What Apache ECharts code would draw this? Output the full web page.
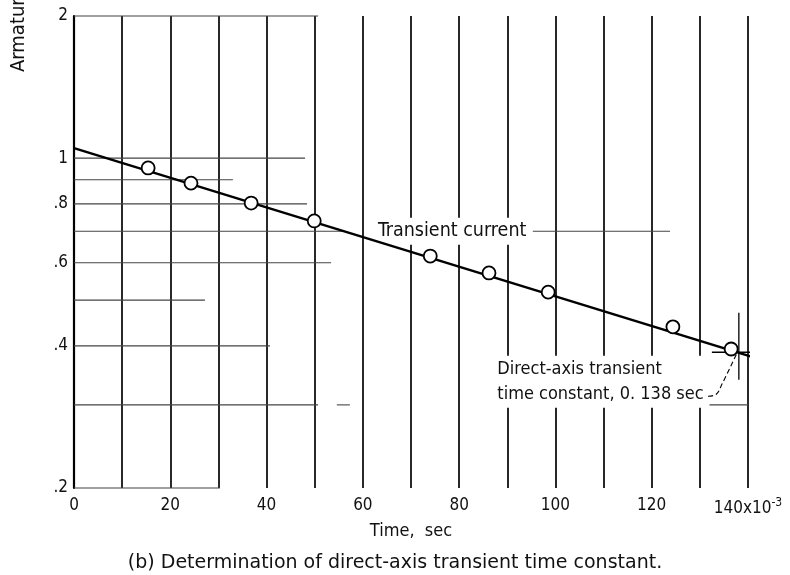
<!DOCTYPE html>
<html>
<head>
<meta charset="utf-8">
<script src="https://cdn.jsdelivr.net/npm/echarts@6/dist/echarts.min.js"></script>
<style>
html,body{margin:0;padding:0;background:#fff;}
#chart{width:790px;height:575px;}
</style>
</head>
<body>
<div id="chart"></div>
<script>
// ---- data ----
const timeMs     = [15.4, 24.3, 36.8, 49.9, 74.0, 86.2, 98.5, 124.4, 136.5];
const currentPU  = [0.953, 0.885, 0.803, 0.736, 0.620, 0.571, 0.520, 0.439, 0.394];
const fitTime    = [0, 142];
const fitCurrent = [1.05, 0.376];
const xTickValues = [0, 20, 40, 60, 80, 100, 120, 140];
const xTickLabels = ['0', '20', '40', '60', '80', '100', '120', '140x10^-3'];
const yTickValues = [2, 1, 0.8, 0.6, 0.4, 0.2];
const yTickLabels = ['2', '1', '.8', '.6', '.4', '.2'];
const timeConstant = 138.1;      // ms
const timeConstantCurrent = 0.388;
const yAxisTitle = 'Armature current';
const xAxisTitle = 'Time,  sec';
const caption = '(b) Determination of direct-axis transient time constant.';
const noteTransient = 'Transient current';
const noteTimeConstant = 'Direct-axis transient\ntime constant, 0. 138 sec';

// ---- decoration (partial log-paper rulings) ----
const FONT = "'DejaVu Sans Condensed','Liberation Sans Narrow',sans-serif";
const CAPFONT = "'DejaVu Sans','Liberation Sans',sans-serif";
const INK = '#111';
const rulings = [
  [2, 0, 50.7], [1, 0, 48], [0.9, 0, 33], [0.8, 0, 48.4], [0.7, 0, 56],
  [0.6, 0, 53.4], [0.5, 0, 27.2], [0.4, 0, 40.7], [0.3, 0, 50.7],
  [0.3, 54.6, 57.3], [0.3, 132, 140], [0.2, 0, 30.3], [0.7, 95.3, 123.8]
];

const chart = echarts.init(document.getElementById('chart'), null, {renderer: 'canvas'});

function xLabel(v) {
  const i = xTickValues.indexOf(v);
  if (i < 0) return '';
  const t = xTickLabels[i];
  if (t.indexOf('^') >= 0) {
    const parts = t.split('^');
    return '{b|' + parts[0] + '}{s|' + parts[1] + '}';
  }
  return '{b|' + t + '}';
}

const option = {
  animation: false,
  backgroundColor: '#fff',
  title: {
    text: caption, left: 'center', top: 549,
    textStyle: {fontFamily: CAPFONT, fontSize: 19, fontWeight: 'normal', color: INK}
  },
  grid: {left: 74, right: 42, top: 16, bottom: 87},
  xAxis: {
    type: 'value', min: 0, max: 140, interval: 10,
    axisLine: {show: false}, axisTick: {show: false},
    splitLine: {show: true, lineStyle: {color: INK, width: 1.8}},
    axisLabel: {
      margin: 9, formatter: xLabel, color: INK,
      rich: {
        b: {fontFamily: FONT, fontSize: 17, color: INK},
        s: {fontFamily: FONT, fontSize: 12, color: INK, verticalAlign: 'top', padding: [0, 0, 12, 0]}
      }
    },
    name: xAxisTitle, nameLocation: 'middle', nameGap: 25,
    nameTextStyle: {fontFamily: FONT, fontSize: 18, color: INK}
  },
  yAxis: {
    type: 'log', logBase: 10, min: 0.2, max: 2,
    axisLine: {show: true, lineStyle: {color: '#000', width: 2.2}},
    axisTick: {show: false}, axisLabel: {show: false}, splitLine: {show: false}
  },
  graphic: [{
    type: 'text', x: 19, y: 72, rotation: Math.PI / 2,
    style: {text: yAxisTitle, font: '20px ' + FONT, fill: INK, textAlign: 'left', textVerticalAlign: 'middle'}
  }],
  series: [
    {
      type: 'custom', silent: true, z: 1,
      data: rulings,
      renderItem: function (params, api) {
        const p0 = api.coord([api.value(1), api.value(0)]);
        const p1 = api.coord([api.value(2), api.value(0)]);
        return {type: 'line', shape: {x1: p0[0], y1: p0[1], x2: p1[0], y2: p1[1]},
                style: {stroke: '#444', lineWidth: 1.1}};
      }
    },
    {
      type: 'scatter', symbolSize: 0, silent: true,
      itemStyle: {opacity: 1},
      data: yTickValues.map((v, i) => ({value: [0, v], label: {formatter: yTickLabels[i]}})),
      label: {show: true, position: 'left', distance: 6, fontFamily: FONT, fontSize: 17, color: INK}
    },
    // annotations (white backing breaks the rulings as in the original)
    {
      type: 'scatter', symbolSize: 0, silent: true, z: 2,
      itemStyle: {opacity: 1},
      data: [
        {value: [62.5, 0.70], label: {formatter: noteTransient, fontSize: 19.5}},
        {value: [87.3, 0.336], label: {formatter: noteTimeConstant}}
      ],
      label: {show: true, position: 'right', distance: 0, fontFamily: FONT, fontSize: 18,
              color: INK, lineHeight: 25, align: 'left', backgroundColor: '#fff', padding: [1, 3]}
    },
    {
      type: 'line', data: fitTime.map((t, i) => [t, fitCurrent[i]]), clip: false,
      symbol: 'none', lineStyle: {color: '#000', width: 2.4}, z: 3
    },
    {
      type: 'scatter', data: timeMs.map((t, i) => [t, currentPU[i]]),
      symbol: 'circle', symbolSize: 13, z: 4,
      itemStyle: {color: '#fff', borderColor: '#000', borderWidth: 1.8, opacity: 1}
    },
    // time-constant cross
    {
      type: 'line', clip: false, symbol: 'none', z: 3,
      data: [[timeConstant, 0.47], [timeConstant, 0.339]],
      lineStyle: {color: '#000', width: 1.3}
    },
    {
      type: 'line', clip: false, symbol: 'none', z: 3,
      data: [[132.5, timeConstantCurrent], [143.1, timeConstantCurrent]],
      lineStyle: {color: '#000', width: 1.5}
    },
    // dashed leader to the time constant point
    {
      type: 'line', clip: false, symbol: 'none', z: 3, smooth: 0.4,
      data: [[131.7, 0.313], [133.4, 0.316], [134.6, 0.332], [137.7, 0.386]],
      lineStyle: {color: '#000', width: 1.1, type: [5, 3]}
    }
  ]
};
chart.setOption(option);
</script>
</body>
</html>
